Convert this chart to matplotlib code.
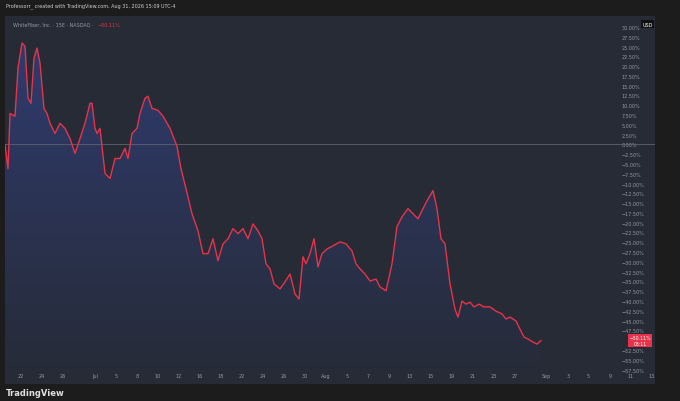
import matplotlib
matplotlib.use("Agg")
import matplotlib.pyplot as plt
import numpy as np
from matplotlib.colors import LinearSegmentedColormap

# bar index and percent change
idx = [0,1.2,2,4,5.2,6.8,8,9.2,10.4,11.6,12.8,14,15.6,16.8,18,20,22,24,26,28,30,32,34,34.8,36,36.8,38,40,42,44,46,48,49.2,50.8,52.8,54,56,57.2,58.8,61.2,63.2,66,68.8,70.4,72.4,74.8,77.2,79.2,81.2,83.2,85.2,87.2,89.2,91.2,93.2,95.2,97.2,99.2,101.2,102.8,104.4,106,107.6,110,112,114,116,117.6,119.2,120.4,122,123.6,125.2,126.8,128.8,131.2,134,136.4,138.8,140.4,142,144,146,148.4,150,152.4,154.8,156.8,158.8,161.2,163.2,165.2,166.8,168.8,171.2,172.8,174.4,176,178,180,181.2,182.8,184.4,186,187.6,189.6,191.6,194,196.4,198.8,200.4,202,204.4,206,207.6,209.2,211.2,212.8,214.4]
vals = [0,-6.2,7.9,7.2,19.5,25.9,25.1,11.8,10.5,22.1,24.6,20.8,9.2,7.9,5.4,2.8,5.4,4.1,1.5,-2.3,1.5,5.4,10.5,10.5,4.1,2.8,4.1,-7.4,-8.7,-3.6,-3.6,-1.0,-3.6,2.8,4.1,7.9,11.8,12.3,9.2,8.7,7.2,4.1,-0.5,-6.2,-11.3,-17.7,-22.1,-27.9,-27.9,-24.1,-29.7,-25.4,-24.1,-21.5,-22.8,-21.5,-24.1,-20.3,-22.1,-24.1,-30.5,-31.8,-35.6,-36.9,-35.1,-33.1,-38.2,-39.5,-28.7,-30.5,-27.9,-24.1,-31.3,-27.9,-26.7,-25.9,-24.9,-25.4,-27.2,-30.5,-31.8,-33.1,-34.9,-34.4,-36.4,-37.4,-30.5,-21.0,-18.5,-16.4,-17.7,-19.0,-16.9,-14.4,-11.8,-16.4,-24.1,-25.4,-35.6,-42.1,-44.1,-40.0,-40.8,-40.3,-41.5,-40.8,-41.5,-41.5,-42.6,-43.3,-44.6,-44.1,-45.1,-47.2,-49.2,-49.7,-50.5,-51.0,-50.11]
last_val = -50.11

xtick_pos = [6.4,14.8,23.2,36,44.4,52.8,61.2,69.6,78,86.4,94.8,103.2,111.6,120,128.4,136.8,145.2,153.6,162,170.4,178.8,187.2,195.6,204,216.4,225.2,233.2,242,250.4,258.8]
xtick_lab = ["22","24","26","Jul","5","8","10","12","16","18","22","24","26","30","Aug","5","7","9","13","15","19","21","23","27","Sep","3","5","9","11","13"]
ytick_vals = [30-2.5*i for i in range(36)]

BG = "#262b36"
fig = plt.figure(figsize=(6.8, 4.02), dpi=100)
fig.patch.set_facecolor("#1c1c1c")
ax = fig.add_axes([5/680, 17/402, 650/680, 368/402])
ax.set_facecolor(BG)
YMIN, YMAX = -61.2, 32.8
poly = ax.fill_between(idx, vals, YMIN, color="none", lw=0)
cmap = LinearSegmentedColormap.from_list("g", [BG, "#2f3b6e"])
grad = np.linspace(0, 1, 256).reshape(-1, 1)
im = ax.imshow(grad, cmap=cmap, aspect="auto", origin="lower",
               extent=[idx[0], idx[-1], YMIN, max(vals)], zorder=1)
im.set_clip_path(poly.get_paths()[0], transform=ax.transData)
ax.plot(idx, vals, color="#e8334a", lw=1.0, zorder=3)
ax.axhline(0, color="#5d6270", lw=0.6, zorder=2)
ax.set_xlim(0, 260)
ax.set_ylim(YMIN, YMAX)
ax.yaxis.tick_right()
ax.set_yticks(ytick_vals)
ylabs = [("%.2f%%" % v).replace("-", "\u2212") for v in ytick_vals]
ylabs[ytick_vals.index(-50.0)] = ""
ax.set_yticklabels(ylabs, fontsize=3.5, color="#9598a1")
ax.tick_params(axis="y", length=0, pad=-24)
ax.set_xticks(xtick_pos)
ax.set_xticklabels(xtick_lab, fontsize=3.5, color="#9598a1")
ax.tick_params(axis="x", length=0, pad=-8)
for s in ax.spines.values():
    s.set_visible(False)
ax.text(0.012, 0.985, "WhiteFiber, Inc. · 15E · NASDAQ ·", transform=ax.transAxes, fontsize=3.5, color="#9598a1", va="top")
ax.text(0.142, 0.985, "\u221250.11%", transform=ax.transAxes, fontsize=3.5, color="#e8334a", va="top")
ax.text(1-2/650, 0.985, "USD", transform=ax.transAxes, fontsize=3.5, color="white", va="top", ha="right",
        bbox=dict(facecolor="#111111", edgecolor="none", pad=1))
ax.text(0.977, (last_val-YMIN)/(YMAX-YMIN), "\u221250.11%\n03:11", transform=ax.transAxes, fontsize=3.3, color="white", va="center", ha="center",
        bbox=dict(facecolor="#e8334a", edgecolor="none", pad=1), zorder=5)
fig.text(6/680, 1-6/402, "Professorr_ created with TradingView.com, Aug 31, 2026 15:09 UTC-4", fontsize=3.5, color="#d0d0d0", va="center")
fig.text(6/680, 8/402, "TradingView", fontsize=6, color="#e0e0e0", va="center", weight="bold")
fig.savefig("out.png", dpi=100, facecolor=fig.get_facecolor())
